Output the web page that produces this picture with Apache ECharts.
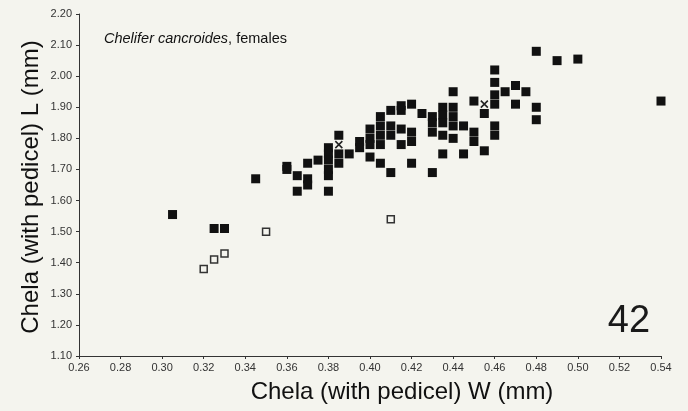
<!DOCTYPE html>
<html>
<head>
<meta charset="utf-8">
<script src="https://cdn.jsdelivr.net/npm/echarts@6/dist/echarts.min.js"></script>
<style>
html,body{margin:0;padding:0;background:#f4f4ee;}
#chart{width:688px;height:411px;}
</style>
</head>
<body>
<div id="chart"></div>
<script>
// Filled squares (females)
var filledW = [0.305,0.325,0.33,0.345,0.36,0.36,0.365,0.365,0.37,0.37,0.37,0.375,
  0.38,0.38,0.38,0.38,0.38,0.38,0.385,0.385,0.385,0.39,0.395,0.395,
  0.40,0.40,0.40,0.40,0.405,0.405,0.405,0.405,0.405,0.41,0.41,0.41,0.41,
  0.415,0.415,0.415,0.415,0.42,0.42,0.42,0.42,0.425,0.43,0.43,0.43,0.43,
  0.435,0.435,0.435,0.435,0.435,0.44,0.44,0.44,0.44,0.44,0.445,0.445,
  0.45,0.45,0.45,0.455,0.455,0.46,0.46,0.46,0.46,0.46,0.46,0.465,0.47,0.47,
  0.475,0.48,0.48,0.48,0.49,0.50,0.54];
var filledL = [1.555,1.51,1.51,1.67,1.71,1.70,1.68,1.63,1.72,1.67,1.65,1.73,
  1.77,1.75,1.73,1.70,1.68,1.63,1.81,1.75,1.72,1.75,1.79,1.77,
  1.83,1.80,1.78,1.74,1.87,1.84,1.81,1.78,1.72,1.89,1.84,1.81,1.69,
  1.905,1.89,1.83,1.78,1.91,1.82,1.79,1.72,1.88,1.87,1.85,1.82,1.69,
  1.90,1.875,1.85,1.81,1.75,1.95,1.90,1.87,1.84,1.80,1.84,1.75,
  1.92,1.82,1.79,1.88,1.76,2.02,1.98,1.94,1.91,1.84,1.81,1.95,1.97,1.91,
  1.95,2.08,1.90,1.86,2.05,2.055,1.92];
// Open squares
var openW = [0.32,0.325,0.33,0.35,0.41];
var openL = [1.38,1.41,1.43,1.50,1.54];
// Crosses
var crossW = [0.385,0.455];
var crossL = [1.78,1.91];

var xTicks = {min:0.26, max:0.54, step:0.02};
var yTicks = {min:1.10, max:2.20, step:0.10};

function zip(a,b){return a.map(function(v,i){return [v,b[i]];});}

var bg = '#f4f4ee';
var font = 'Liberation Sans, Arial, sans-serif';
var chart = echarts.init(document.getElementById('chart'));
chart.setOption({
  backgroundColor: bg,
  animation: false,
  grid: {left:79, right:27, top:14, bottom:55, containLabel:false},
  title: {
    text: '{i|Chelifer cancroides}, females',
    left: 104, top: 31, padding: 0,
    textStyle: {fontFamily: font, fontSize: 14.5, fontWeight: 'normal', color:'#111',
      rich: {i: {fontStyle:'italic', fontFamily: font, fontSize:14.5, color:'#111'}}}
  },
  xAxis: {
    type:'value', min:xTicks.min, max:xTicks.max, interval:xTicks.step,
    axisLine:{lineStyle:{color:'#333', width:1}},
    axisTick:{show:true, length:3, inside:false, lineStyle:{color:'#333'}},
    splitLine:{show:false},
    axisLabel:{fontFamily:font, fontSize:11, color:'#333', margin:6,
      formatter:function(v){return v.toFixed(2);}}
  },
  yAxis: {
    type:'value', min:yTicks.min, max:yTicks.max, interval:yTicks.step,
    axisLine:{show:true, lineStyle:{color:'#333', width:1}},
    axisTick:{show:true, length:3, lineStyle:{color:'#333'}},
    splitLine:{show:false},
    axisLabel:{fontFamily:font, fontSize:11, color:'#333', margin:7,
      formatter:function(v){return v.toFixed(2);}}
  },
  graphic: [
    {type:'text', x:402, y:392, style:{text:'Chela (with pedicel) W (mm)', font:'24px '+font, fill:'#111', align:'center', verticalAlign:'middle'}},
    {type:'text', x:31, y:187, rotation:Math.PI/2, style:{text:'Chela (with pedicel) L (mm)', font:'24px '+font, fill:'#111', align:'center', verticalAlign:'middle'}},
    {type:'text', x:629, y:322, style:{text:'42', font:'38px '+font, fill:'#1a1a1a', align:'center', verticalAlign:'middle'}}
  ],
  series: [
    {type:'scatter', name:'filled', data: zip(filledW, filledL), symbol:'rect', symbolSize:9,
      itemStyle:{color:'#111', opacity:1}},
    {type:'scatter', name:'open', data: zip(openW, openL), symbol:'rect', symbolSize:7,
      itemStyle:{color:bg, borderColor:'#333', borderWidth:1.5, opacity:1}},
    {type:'scatter', name:'cross', data: zip(crossW, crossL), symbol:'path://M0,0L10,10M10,0L0,10', symbolSize:7,
      itemStyle:{color:'none', borderColor:'#222', borderWidth:1.6, opacity:1}}
  ]
});
</script>
</body>
</html>
